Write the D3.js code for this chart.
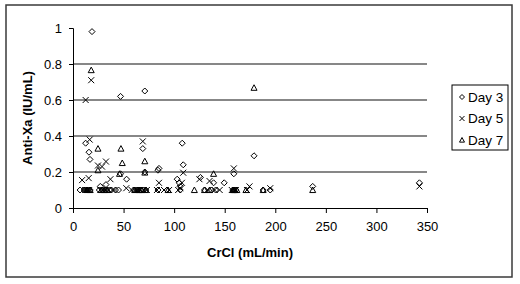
<!DOCTYPE html>
<html>
<head>
<meta charset="utf-8">
<title>Anti-Xa vs CrCl</title>
<script src="https://cdnjs.cloudflare.com/ajax/libs/d3/7.8.5/d3.min.js"></script>
<style>
  html, body { margin: 0; padding: 0; background: #fff; }
  svg { display: block; font-family: "Liberation Sans", Arial, sans-serif; }
</style>
</head>
<body>
<div id="chart"></div>
<script>
// [CrCl mL/min, Anti-Xa IU/mL]
const day3 = [
  [18.8, 0.98], [47, 0.62], [71, 0.65], [12.5, 0.36], [15.8, 0.31], [16.8, 0.27],
  [69, 0.33], [108, 0.36], [109, 0.24], [179, 0.29], [85, 0.22], [84, 0.21],
  [53, 0.16], [47, 0.19], [71, 0.20], [103, 0.16], [126, 0.17], [139, 0.14],
  [149.5, 0.14], [159, 0.19], [237, 0.12], [342.5, 0.14], [195, 0.10], [27, 0.12],
  [32.6, 0.13], [106, 0.12], [105, 0.14],
  [7, 0.1], [11, 0.1], [13, 0.1], [15, 0.1], [17, 0.1], [26, 0.1], [29, 0.1],
  [33, 0.1], [38, 0.1], [42, 0.1], [45, 0.1], [60, 0.1], [63, 0.1], [67, 0.1],
  [72, 0.1], [84, 0.1], [93, 0.1], [106, 0.1], [130, 0.1], [137, 0.1], [141, 0.1],
  [158, 0.1], [161, 0.1], [188, 0.1], [64, 0.1], [69, 0.1], [159, 0.1], [36, 0.1]
];
const day5 = [
  [18, 0.71], [12.5, 0.60], [16.5, 0.38], [69, 0.37], [9, 0.155], [15.5, 0.166],
  [24.7, 0.236], [32.6, 0.258], [28.7, 0.23], [37, 0.16], [52.7, 0.11], [85, 0.14],
  [109, 0.196], [107.7, 0.14], [125, 0.16], [135, 0.15], [159, 0.22], [174.5, 0.12],
  [195, 0.11], [342.5, 0.12], [106, 0.11], [145, 0.10],
  [12, 0.1], [14, 0.1], [16, 0.1], [27, 0.1], [30, 0.1], [35, 0.1], [40, 0.1],
  [58, 0.1], [62, 0.1], [66, 0.1], [70, 0.1], [83, 0.1], [90, 0.1], [95, 0.1],
  [104, 0.1], [133, 0.1], [140, 0.1], [157, 0.1], [160, 0.1], [172, 0.1],
  [64, 0.1], [73, 0.1], [161, 0.1], [32, 0.1]
];
const day7 = [
  [18, 0.766], [179, 0.668], [24.7, 0.33], [47.4, 0.33], [48.7, 0.25], [71, 0.26],
  [71, 0.197], [46, 0.19], [24.7, 0.21], [139, 0.19], [237, 0.10],
  [14, 0.1], [17, 0.1], [28, 0.1], [31, 0.1], [34, 0.1], [61, 0.1], [65, 0.1],
  [68, 0.1], [72, 0.1], [94, 0.1], [120, 0.1], [130, 0.1], [135, 0.1], [159, 0.1],
  [162, 0.1], [171, 0.1], [188, 0.1], [158, 0.1], [160, 0.1], [66, 0.1]
];
const seriesNames = ["Day 3", "Day 5", "Day 7"];
const xTicks = [0, 50, 100, 150, 200, 250, 300, 350];
const yTicks = [0, 0.2, 0.4, 0.6, 0.8, 1];
const gridValues = [0.2, 0.4, 0.6, 0.8];

const width = 520, height = 284;
const margin = { left: 73, right: 93, top: 28, bottom: 76 };

const svg = d3.select("#chart").append("svg")
  .attr("width", width)
  .attr("height", height);

svg.append("rect")
  .attr("width", width).attr("height", height).attr("fill", "#fff");

// outer chart border
svg.append("rect")
  .attr("x", 6).attr("y", 5)
  .attr("width", 506).attr("height", 272)
  .attr("fill", "none")
  .attr("stroke", "#3a3a3a")
  .attr("stroke-width", 1.5);

const x = d3.scaleLinear().domain([0, 350]).range([margin.left, width - margin.right]);
const y = d3.scaleLinear().domain([0, 1]).range([height - margin.bottom, margin.top]);

// gridlines
svg.append("g")
  .selectAll("line")
  .data(gridValues)
  .join("line")
  .attr("x1", x(0)).attr("x2", x(350))
  .attr("y1", d => y(d)).attr("y2", d => y(d))
  .attr("stroke", "#111")
  .attr("stroke-width", 1.2);

const xAxis = svg.append("g")
  .attr("transform", `translate(0,${y(0)})`)
  .call(d3.axisBottom(x).tickValues(xTicks).tickSizeOuter(0).tickSize(5).tickPadding(9));

const yAxis = svg.append("g")
  .attr("transform", `translate(${x(0)},0)`)
  .call(d3.axisLeft(y).tickValues(yTicks).tickFormat(d => String(d)).tickSizeOuter(0).tickSize(4).tickPadding(7));

[xAxis, yAxis].forEach(g => {
  g.attr("font-family", "Liberation Sans, Arial, sans-serif").attr("font-size", 13);
  g.selectAll("text").attr("fill", "#000");
  g.selectAll("line, path").attr("stroke", "#000");
});

svg.append("text")
  .attr("x", (x(0) + x(350)) / 2)
  .attr("y", 257)
  .attr("text-anchor", "middle")
  .attr("font-size", 13)
  .attr("font-weight", "bold")
  .text("CrCl (mL/min)");

svg.append("text")
  .attr("transform", `translate(32,${(y(0) + y(1)) / 2}) rotate(-90)`)
  .attr("text-anchor", "middle")
  .attr("font-size", 13)
  .attr("font-weight", "bold")
  .text("Anti-Xa (IU/mL)");

// marker shapes
function diamond(g, s) {
  g.append("path").attr("d", `M0,${-s}L${s},0L0,${s}L${-s},0Z`);
}
function cross(g, s) {
  g.append("path").attr("d", `M${-s},${-s}L${s},${s}M${-s},${s}L${s},${-s}`);
}
function triangle(g, s) {
  g.append("path").attr("d", `M0,${-s}L${s},${s * 0.85}L${-s},${s * 0.85}Z`);
}
const shapes = [diamond, cross, triangle];

function drawSeries(data, shape) {
  svg.append("g")
    .selectAll("g")
    .data(data)
    .join("g")
    .attr("transform", d => `translate(${x(d[0])},${y(d[1])})`)
    .each(function () { shape(d3.select(this), 3); })
    .selectAll("path")
    .attr("fill", "none")
    .attr("stroke", "#000")
    .attr("stroke-width", 1);
}
drawSeries(day3, diamond);
drawSeries(day5, cross);
drawSeries(day7, triangle);

// legend
const legend = svg.append("g");
legend.append("rect")
  .attr("x", 452).attr("y", 85)
  .attr("width", 56).attr("height", 65)
  .attr("fill", "#fff")
  .attr("stroke", "#000");

const rowY = d3.scalePoint().domain(seriesNames).range([97, 140]);
seriesNames.forEach((name, i) => {
  const row = legend.append("g").attr("transform", `translate(462,${rowY(name)})`);
  shapes[i](row, 2.5);
  row.selectAll("path").attr("fill", "none").attr("stroke", "#000");
  row.append("text")
    .attr("x", 6)
    .attr("y", 4.5)
    .attr("font-size", 13.5)
    .text(name);
});
</script>
</body>
</html>
